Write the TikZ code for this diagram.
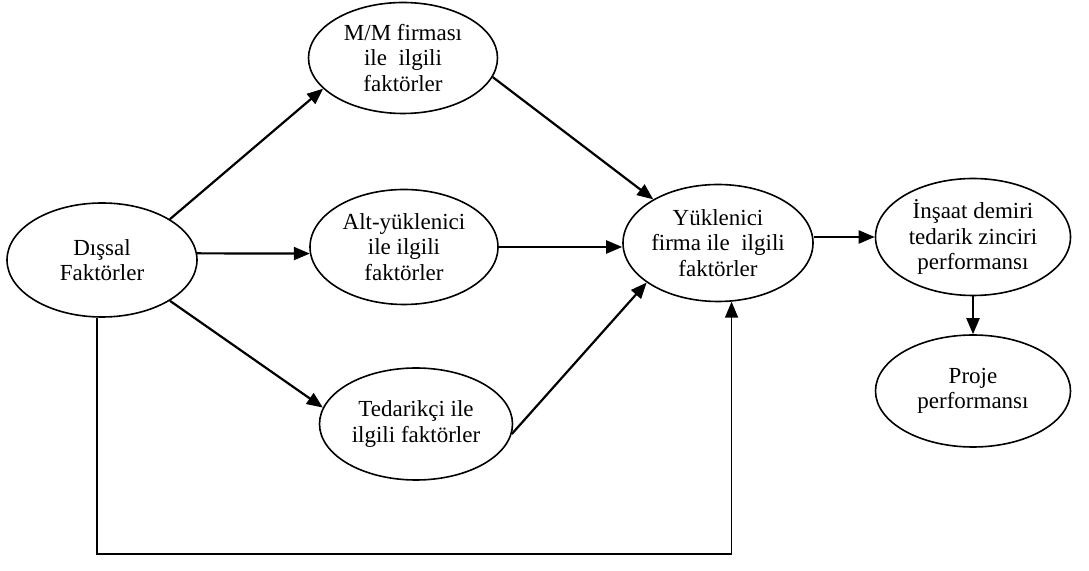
\documentclass[tikz,border=0pt]{standalone}
\usepackage{fontspec}
\setmainfont{Liberation Serif}
\usetikzlibrary{arrows.meta,shapes.geometric}
\begin{document}
\begin{tikzpicture}[x=1pt,y=1pt,
  factor/.style={ellipse,draw,line width=1.6pt,inner sep=0pt,align=center,
    font=\fontsize{23}{25.5}\selectfont},
  arr/.style={line width=2.2pt,-{Triangle[length=16pt,width=13pt]}},
  feed/.style={line width=1.6pt,-{Triangle[length=16pt,width=13pt]}}]
\useasboundingbox (0,0) rectangle (1089,570);

% factor ellipses
\node[factor,minimum width=190pt,minimum height=114pt] (dis) at (102,310) {Dışsal\\Faktörler};
\node[factor,minimum width=189pt,minimum height=111pt] (mm)  at (403,512) {M/M firması\\ile\ \ ilgili\\faktörler};
\node[factor,minimum width=188pt,minimum height=115pt] (alt) at (404,323) {Alt-yüklenici\\ile ilgili\\faktörler};
\node[factor,minimum width=193pt,minimum height=112pt] (ted) at (416,146) {Tedarikçi ile\\ilgili faktörler};
\node[factor,minimum width=190pt,minimum height=117pt] (yuk) at (718,327) {Yüklenici\\firma ile\ \ ilgili\\faktörler};
\node[factor,minimum width=195pt,minimum height=117pt] (ins) at (973,333) {İnşaat demiri\\tedarik zinciri\\performansı};
\node[factor,minimum width=195pt,minimum height=112pt] (pro) at (973,179) {Proje\\performansı};

% influences
\draw[arr] (dis.31)  -- (mm.201);
\draw[arr] (dis.4)   -- (alt.184);
\draw[arr] (dis.-31) -- (ted.170);
\draw[arr] (mm.-12)  -- (yuk.146);
\draw[arr] (alt.east) -- (alt.east -| yuk.west);
\draw[arr] (ted.-6)  -- (yuk.209);
\draw[arr] (ins.west -| yuk.east) -- (ins.west);
\draw[arr] (ins.south) -- (pro.north);
\draw[feed] (dis.265) -- ++(0,-236) -| (yuk.283);
\end{tikzpicture}
\end{document}
